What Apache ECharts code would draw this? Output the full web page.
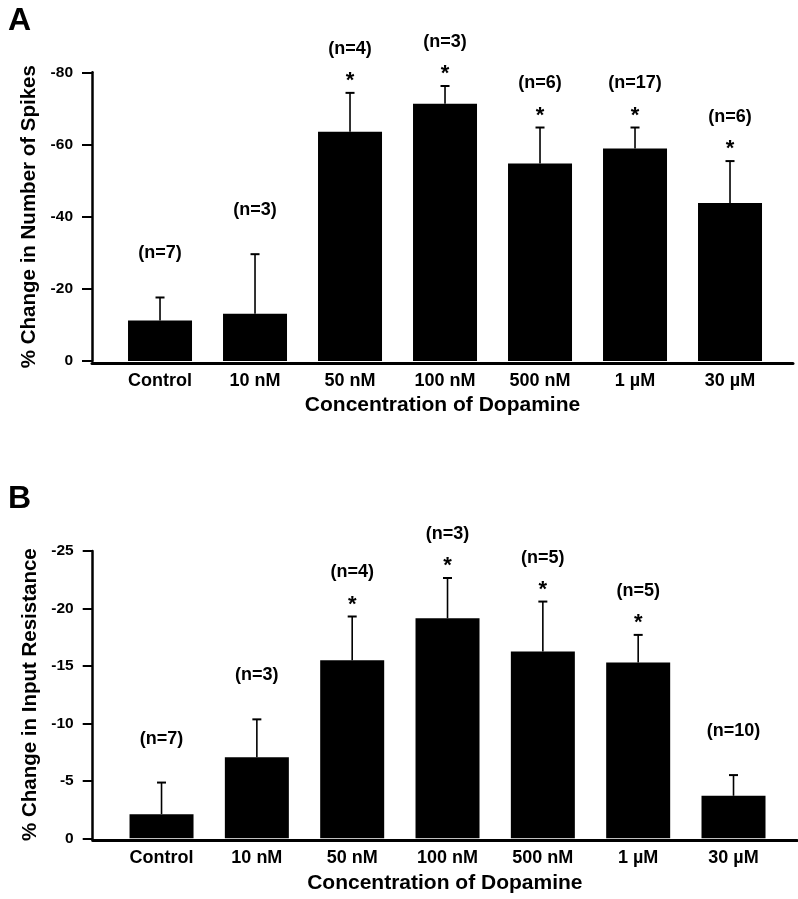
<!DOCTYPE html>
<html>
<head>
<meta charset="utf-8">
<script src="https://cdn.jsdelivr.net/npm/echarts@6/dist/echarts.min.js"></script>
<style>html,body{margin:0;padding:0;background:#fff}#c{width:798px;height:899px}</style>
</head>
<body>
<div id="c"></div>
<script>
const categories = ['Control', '10 nM', '50 nM', '100 nM', '500 nM', '1 µM', '30 µM'];
const positions = [0, 1, 2, 3, 4, 5, 6];

const spikesMean = [-11.2, -13.1, -63.5, -71.3, -54.7, -58.9, -43.8];
const spikesSem  = [6.4, 16.5, 10.8, 4.9, 10.0, 5.8, 11.6];
const spikesN    = [7, 3, 4, 3, 6, 17, 6];
const spikesSig  = [false, false, true, true, true, true, true];

const resMean = [-2.1, -7.05, -15.5, -19.15, -16.25, -15.3, -3.7];
const resSem  = [2.75, 3.3, 3.8, 3.5, 4.35, 2.4, 1.8];
const resN    = [7, 3, 4, 3, 5, 5, 10];
const resSig  = [false, false, true, true, true, true, false];

const FONT = '"Liberation Sans", Arial, Helvetica, sans-serif';

function makeRender(ns, sig) {
  return function (params, api) {
    const i = params.dataIndex;
    const x = api.value(0), m = api.value(1), s = api.value(2);
    const p0 = api.coord([x, m]);
    const p1 = api.coord([x, m - s]);
    const children = [
      {type: 'line', shape: {x1: p0[0], y1: p0[1], x2: p1[0], y2: p1[1]}, style: {stroke: '#000', lineWidth: 1.6}},
      {type: 'line', shape: {x1: p1[0] - 4.5, y1: p1[1], x2: p1[0] + 4.5, y2: p1[1]}, style: {stroke: '#000', lineWidth: 2}},
      {type: 'text', style: {text: '(n=' + ns[i] + ')', x: p1[0], y: p1[1] - 44, align: 'center', verticalAlign: 'middle',
        fontSize: 18, fontWeight: 'bold', fontFamily: FONT, fill: '#000'}}
    ];
    if (sig[i]) {
      children.push({type: 'text', style: {text: '*', x: p1[0], y: p1[1] - 12, align: 'center', verticalAlign: 'middle',
        fontSize: 22, fontWeight: 'bold', fontFamily: FONT, fill: '#000'}});
    }
    return {type: 'group', children: children};
  };
}

function xAxisDef(gridIndex, min, max) {
  return {
    type: 'value', gridIndex: gridIndex, min: min, max: max, offset: 2,
    name: 'Concentration of Dopamine', nameLocation: 'middle', nameGap: 32,
    nameTextStyle: {fontSize: 21, fontWeight: 'bold', fontFamily: FONT, color: '#000'},
    axisLine: {onZero: false, lineStyle: {color: '#000', width: 3}},
    axisTick: {show: false},
    splitLine: {show: false},
    axisLabel: {customValues: positions, formatter: v => categories[Math.round(v)], margin: 9,
      fontSize: 18, fontWeight: 'bold', fontFamily: FONT, color: '#000'}
  };
}

function yAxisDef(gridIndex, min, interval, name) {
  return {
    type: 'value', gridIndex: gridIndex, min: min, max: 0, interval: interval, inverse: true,
    name: name, nameLocation: 'middle', nameGap: 51,
    nameTextStyle: {fontSize: 20.5, fontWeight: 'bold', fontFamily: FONT, color: '#000'},
    axisLine: {show: true, onZero: false, lineStyle: {color: '#000', width: 2.5}},
    axisTick: {show: true, length: 10, lineStyle: {color: '#000', width: 2}},
    splitLine: {show: false},
    axisLabel: {margin: 19, fontSize: 15.5, fontWeight: 'bold', fontFamily: FONT, color: '#000'}
  };
}

const chart = echarts.init(document.getElementById('c'), null, {renderer: 'canvas'});
chart.setOption({
  backgroundColor: '#fff',
  animation: false,
  title: [
    {text: 'A', left: 3, top: 0, textStyle: {fontSize: 32, fontWeight: 'bold', fontFamily: FONT, color: '#000'}},
    {text: 'B', left: 3, top: 478, textStyle: {fontSize: 32, fontWeight: 'bold', fontFamily: FONT, color: '#000'}}
  ],
  grid: [
    {left: 92, top: 72.3, width: 701, height: 288.7},
    {left: 92.7, top: 551, width: 704.3, height: 287.3}
  ],
  xAxis: [xAxisDef(0, -0.716, 6.663), xAxisDef(1, -0.722, 6.666)],
  yAxis: [yAxisDef(0, -80, 20, '% Change in Number of Spikes'), yAxisDef(1, -25, 5, '% Change in Input Resistance')],
  series: [
    {type: 'bar', xAxisIndex: 0, yAxisIndex: 0, barWidth: 64, itemStyle: {color: '#000'},
      data: positions.map((p, i) => [p, spikesMean[i]])},
    {type: 'custom', xAxisIndex: 0, yAxisIndex: 0, clip: false, renderItem: makeRender(spikesN, spikesSig),
      data: positions.map((p, i) => [p, spikesMean[i], spikesSem[i]])},
    {type: 'bar', xAxisIndex: 1, yAxisIndex: 1, barWidth: 64, itemStyle: {color: '#000'},
      data: positions.map((p, i) => [p, resMean[i]])},
    {type: 'custom', xAxisIndex: 1, yAxisIndex: 1, clip: false, renderItem: makeRender(resN, resSig),
      data: positions.map((p, i) => [p, resMean[i], resSem[i]])}
  ]
});
</script>
</body>
</html>
